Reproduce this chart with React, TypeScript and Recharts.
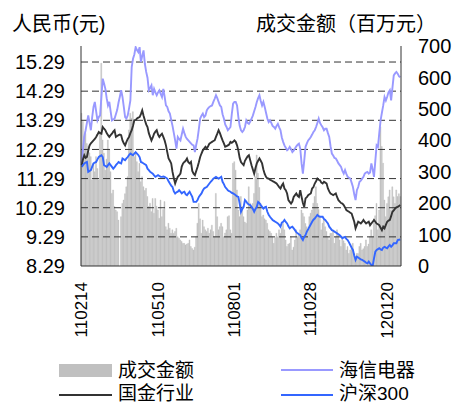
import React from 'react';
import { ComposedChart, Bar, Line, XAxis, YAxis, ReferenceLine } from 'recharts';

// Market holidays (yymmdd) on weekdays in the period
const holidays = ['110404','110405','110502','110606','110912','111003','111004','111005','111006','111007','120102','120103','120123','120124','120125','120126','120127'];

function tradingDays(start: number[], end: number[]): string[] {
  const out: string[] = [];
  const d = new Date(Date.UTC(start[0], start[1] - 1, start[2]));
  const e = new Date(Date.UTC(end[0], end[1] - 1, end[2]));
  while (d <= e) {
    const wd = d.getUTCDay();
    const s = String(d.getUTCFullYear() % 100).padStart(2, '0') + String(d.getUTCMonth() + 1).padStart(2, '0') + String(d.getUTCDate()).padStart(2, '0');
    if (wd !== 0 && wd !== 6 && !holidays.includes(s)) out.push(s);
    d.setUTCDate(d.getUTCDate() + 1);
  }
  return out;
}

const dates = tradingDays([2011, 2, 14], [2012, 2, 10]);
const xTickLabels = ['110214', '110510', '110801', '111028', '120120'];
const leftTicks = [8.29, 9.29, 10.29, 11.29, 12.29, 13.29, 14.29, 15.29];
const rightTicks = [0, 100, 200, 300, 400, 500, 600, 700];

// 成交金额 (百万元)
const volume = [
  486, 460, 412, 422, 390, 380, 360, 348, 274, 327,
  300, 348, 310, 274, 420, 645, 401, 359, 305, 340,
  401, 369, 300, 231, 242, 189, 178, 173, 146, 0,
  157, 199, 210, 230, 252, 284, 433, 486, 470, 491,
  348, 359, 332, 300, 327, 268, 284, 252, 240, 247,
  221, 189, 200, 173, 215, 168, 215, 190, 178, 152,
  210, 157, 180, 205, 125, 115, 136, 120, 104, 115,
  104, 110, 120, 93, 88, 83, 78, 72, 72, 67,
  70, 72, 83, 62, 56, 51, 60, 93, 136, 199,
  150, 104, 146, 125, 115, 110, 120, 104, 115, 130,
  110, 93, 231, 157, 115, 125, 136, 125, 93, 105,
  115, 157, 160, 115, 104, 327, 332, 305, 242, 178,
  157, 221, 189, 157, 140, 136, 178, 252, 200, 189,
  199, 231, 284, 353, 295, 250, 199, 157, 162, 150,
  146, 136, 115, 110, 104, 93, 72, 90, 104, 93,
  115, 104, 120, 136, 115, 83, 62, 70, 72, 93,
  51, 60, 83, 115, 93, 100, 115, 178, 168, 157,
  135, 125, 115, 157, 168, 178, 200, 221, 252, 199,
  180, 157, 115, 136, 146, 125, 110, 93, 83, 104,
  104, 115, 72, 93, 115, 100, 83, 62, 93, 80,
  72, 51, 62, 40, 51, 60, 72, 40, 30, 40,
  40, 62, 72, 51, 55, 62, 83, 62, 70, 93,
  115, 93, 136, 160, 199, 115, 178, 443, 380, 327,
  210, 157, 199, 220, 242, 178, 252, 220, 199, 242,
  221, 230, 221,
];

// 海信电器 (元)
const hisense = [
  11.81, 12.30, 12.75, 12.95, 13.20, 13.46, 13.20, 12.95, 13.40, 13.75,
  13.92, 13.60, 13.29, 13.40, 13.46, 14.10, 14.72, 14.55, 14.37, 14.05,
  13.80, 13.92, 13.60, 13.29, 13.32, 13.35, 13.50, 13.65, 13.90, 14.10,
  14.32, 14.09, 13.75, 13.40, 13.35, 13.46, 13.70, 13.97, 15.12, 15.40,
  15.55, 15.80, 15.70, 15.63, 15.80, 15.29, 15.50, 15.69, 15.23, 14.95,
  14.75, 14.32, 14.40, 14.49, 14.15, 14.37, 14.25, 14.15, 14.25, 14.32,
  14.20, 14.09, 14.37, 14.10, 13.80, 13.75, 13.60, 13.52, 13.30, 13.10,
  12.85, 12.60, 12.32, 12.72, 12.65, 12.60, 12.80, 13.00, 12.85, 12.72,
  12.65, 12.60, 12.55, 12.50, 12.45, 12.43, 12.20, 12.45, 12.66, 13.00,
  13.35, 13.45, 13.52, 13.40, 13.45, 13.63, 13.70, 13.75, 13.78, 13.80,
  13.92, 14.03, 14.15, 14.05, 13.92, 13.80, 13.75, 13.50, 13.35, 13.15,
  13.06, 12.95, 13.00, 13.06, 13.50, 13.86, 13.92, 13.92, 13.80, 13.40,
  13.10, 12.95, 12.89, 12.95, 13.06, 13.29, 13.20, 13.17, 13.25, 13.35,
  13.45, 13.60, 13.75, 13.92, 14.05, 14.15, 13.95, 13.80, 13.92, 13.75,
  13.55, 13.35, 13.23, 13.29, 13.20, 13.10, 13.06, 13.00, 13.10, 13.17,
  13.05, 12.95, 12.70, 12.55, 12.43, 12.35, 12.26, 12.30, 12.38, 12.30,
  12.20, 12.25, 12.32, 12.40, 12.45, 12.49, 12.32, 11.81, 11.46, 11.90,
  12.38, 12.50, 12.60, 12.65, 12.72, 12.80, 12.89, 12.95, 13.06, 13.20,
  13.35, 13.20, 13.12, 13.05, 12.95, 13.00, 13.00, 12.85, 12.72, 12.40,
  12.15, 12.08, 12.00, 11.98, 11.90, 11.81, 11.75, 11.69, 11.55, 11.46,
  11.58, 11.45, 11.35, 11.32, 11.29, 11.15, 11.00, 10.75, 10.55, 10.89,
  11.00, 11.18, 11.22, 11.29, 11.35, 11.46, 11.50, 11.52, 11.46, 11.50,
  11.81, 11.60, 11.35, 11.90, 12.43, 12.38, 12.85, 13.29, 13.55, 13.80,
  14.09, 13.97, 14.10, 14.25, 14.32, 13.97, 14.40, 14.83, 14.90, 14.95,
  14.89, 14.80, 14.77,
];

// 国金行业 (元)
const guojin = [
  11.75, 11.95, 12.09, 12.00, 12.03, 12.25, 12.43, 12.50, 12.55, 12.60,
  12.65, 12.72, 12.80, 12.89, 12.85, 12.83, 13.06, 13.00, 12.95, 12.85,
  12.78, 12.72, 12.78, 12.83, 12.90, 12.95, 12.72, 12.75, 12.78, 12.80,
  12.78, 12.60, 12.50, 12.43, 12.55, 12.65, 12.72, 12.85, 12.95, 13.10,
  13.29, 13.30, 13.35, 13.38, 13.40, 13.50, 13.63, 13.45, 13.29, 13.15,
  13.06, 12.85, 12.72, 12.60, 12.70, 12.83, 12.90, 12.95, 12.80, 12.72,
  12.78, 12.83, 12.72, 12.60, 12.43, 12.20, 11.98, 11.90, 11.81, 11.52,
  11.30, 11.12, 11.25, 11.35, 11.40, 11.46, 11.70, 11.81, 11.86, 11.90,
  11.98, 11.85, 11.81, 11.86, 11.55, 11.46, 11.41, 11.55, 11.69, 11.85,
  12.03, 12.15, 12.26, 12.32, 12.38, 12.32, 12.40, 12.49, 12.52, 12.55,
  12.58, 12.60, 12.72, 12.83, 12.95, 12.85, 12.72, 12.60, 12.50, 12.38,
  12.40, 12.43, 12.46, 12.55, 12.52, 12.55, 12.60, 12.55, 12.43, 12.25,
  12.00, 11.86, 11.80, 11.75, 11.90, 11.98, 12.05, 12.09, 11.92, 11.75,
  11.60, 11.46, 11.65, 11.81, 11.90, 11.98, 11.90, 11.81, 11.60, 11.45,
  11.35, 11.30, 11.29, 11.25, 11.23, 11.20, 11.18, 11.15, 11.12, 11.06,
  11.00, 10.95, 11.05, 11.12, 10.95, 10.89, 10.78, 10.55, 10.49, 10.43,
  10.50, 10.66, 10.72, 10.78, 10.70, 10.66, 10.89, 10.66, 10.45, 10.32,
  10.61, 10.65, 10.72, 10.75, 10.78, 10.95, 11.00, 11.12, 11.20, 11.29,
  11.25, 11.23, 11.15, 11.12, 11.18, 11.15, 11.12, 10.95, 10.85, 10.78,
  10.75, 10.72, 10.75, 10.78, 10.65, 10.55, 10.50, 10.45, 10.43, 10.38,
  10.30, 10.21, 10.18, 10.15, 10.12, 10.09, 9.95, 9.81, 9.58, 9.70,
  9.81, 9.78, 9.75, 9.80, 9.87, 9.80, 9.75, 9.78, 9.81, 9.69,
  9.75, 9.80, 9.87, 9.81, 9.75, 9.72, 9.69, 9.60, 9.52, 9.64,
  9.58, 9.70, 9.81, 9.85, 9.87, 10.00, 10.15, 10.20, 10.26, 10.30,
  10.32, 10.35, 10.38,
];

// 沪深300 (rebased, 元)
const hs300 = [
  11.69, 11.75, 11.81, 11.84, 11.86, 11.52, 11.55, 11.58, 11.70, 11.81,
  11.84, 11.86, 11.95, 12.03, 12.06, 12.09, 12.03, 11.75, 11.72, 11.69,
  11.75, 11.81, 11.75, 11.69, 11.63, 11.68, 11.75, 11.80, 11.86, 11.83,
  11.81, 11.98, 11.95, 11.92, 11.98, 12.03, 12.10, 12.15, 12.12, 12.09,
  12.15, 12.20, 12.15, 12.10, 12.03, 11.86, 11.84, 11.81, 11.78, 11.75,
  11.63, 11.58, 11.52, 11.49, 11.46, 11.40, 11.35, 11.38, 11.41, 11.38,
  11.35, 11.35, 11.36, 11.35, 11.32, 11.29, 11.20, 11.12, 11.05, 11.00,
  10.85, 10.78, 10.82, 10.84, 10.89, 10.84, 10.78, 10.82, 10.84, 10.75,
  10.72, 10.78, 10.84, 10.75, 10.66, 10.49, 10.49, 10.49, 10.55, 10.66,
  10.72, 10.78, 10.88, 10.95, 10.98, 11.00, 11.06, 11.12, 11.18, 11.23,
  11.29, 11.32, 11.35, 11.32, 11.29, 11.32, 11.35, 11.18, 11.10, 11.00,
  10.95, 10.89, 10.86, 10.84, 10.80, 10.78, 10.75, 10.72, 10.68, 10.66,
  10.43, 10.15, 10.25, 10.32, 10.55, 10.50, 10.43, 10.40, 10.38, 10.32,
  10.25, 10.15, 10.25, 10.32, 10.49, 10.45, 10.38, 10.32, 10.26, 10.30,
  10.32, 10.15, 10.05, 9.98, 9.92, 9.87, 9.84, 9.81, 9.78, 9.75,
  9.70, 9.64, 9.78, 9.81, 9.87, 9.80, 9.75, 9.65, 9.58, 9.62,
  9.64, 9.58, 9.52, 9.45, 9.41, 9.38, 9.35, 9.25, 9.18, 9.29,
  9.35, 9.47, 9.55, 9.64, 9.72, 9.81, 9.88, 9.92, 9.98, 10.04,
  10.00, 9.98, 9.98, 9.98, 9.90, 9.87, 9.81, 9.75, 9.64, 9.58,
  9.52, 9.50, 9.47, 9.44, 9.41, 9.38, 9.35, 9.30, 9.24, 9.27,
  9.29, 9.22, 9.18, 9.10, 9.01, 8.92, 8.84, 8.65, 8.50, 8.61,
  8.58, 8.55, 8.52, 8.50, 8.47, 8.44, 8.40, 8.38, 8.44, 8.38,
  8.32, 8.29, 8.55, 8.78, 8.84, 8.87, 8.90, 8.86, 8.84, 8.92,
  8.95, 8.92, 8.90, 8.96, 9.01, 8.95, 9.00, 9.07, 9.07, 9.07,
  9.18, 9.19, 9.20,
];

const seriesNames = { volume: '成交金额', hisense: '海信电器', guojin: '国金行业', hs300: '沪深300' };
const colors = { volume: '#C0C0C0', hisense: '#9999FF', guojin: '#333333', hs300: '#3366FF' };

const data = dates.map((date, i) => ({
  date,
  volume: volume[i],
  hisense: hisense[i],
  guojin: guojin[i],
  hs300: hs300[i],
}));

const NUM_FONT = '"Liberation Sans", Arial, sans-serif';
const CJK_FONT = '"Liberation Sans", "Noto Sans CJK SC", sans-serif';

const RotTick = (props: any) => {
  const { x, y, payload } = props;
  return (
    <text
      x={x}
      y={y}
      transform={`rotate(-90 ${x} ${y})`}
      textAnchor="end"
      dominantBaseline="central"
      fontSize={17}
      fontFamily={NUM_FONT}
      fill="#000"
    >
      {payload.value}
    </text>
  );
};

export default function App() {
  return (
    <div style={{ position: 'absolute', left: 0, top: 0, width: 456, height: 405, background: '#fff' }}>
      <ComposedChart
        width={456}
        height={405}
        data={data}
        margin={{ top: 46, right: 0, bottom: 0, left: 0 }}
        barCategoryGap={0}
        barGap={0}
      >
        <XAxis
          dataKey="date"
          ticks={xTickLabels}
          interval={0}
          tickLine={false}
          tickSize={0}
          tickMargin={16}
          height={139}
          axisLine={{ stroke: '#333', strokeWidth: 1 }}
          tick={<RotTick />}
        />
        <YAxis
          yAxisId="left"
          type="number"
          width={81}
          domain={[8.29, 15.84]}
          allowDataOverflow
          ticks={leftTicks}
          tickFormatter={(v: number) => v.toFixed(2)}
          tickLine={false}
          tickSize={0}
          tickMargin={16}
          axisLine={{ stroke: '#333', strokeWidth: 1 }}
          tick={{ fontSize: 20, fill: '#000', fontFamily: NUM_FONT }}
        />
        <YAxis
          yAxisId="right"
          orientation="right"
          type="number"
          width={55}
          domain={[0, 700]}
          allowDataOverflow
          ticks={rightTicks}
          tickLine={false}
          tickSize={0}
          tickMargin={17}
          axisLine={{ stroke: '#333', strokeWidth: 1 }}
          tick={{ fontSize: 20, fill: '#000', fontFamily: NUM_FONT }}
        />
        <Bar
          dataKey="volume"
          name={seriesNames.volume}
          yAxisId="right"
          fill={colors.volume}
          stroke={colors.volume}
          strokeWidth={0.4}
          isAnimationActive={false}
        />
        {leftTicks.slice(1).map((v) => (
          <ReferenceLine key={v} yAxisId="left" y={v} stroke="#333" strokeWidth={1} strokeDasharray="7 4" />
        ))}
        <Line type="linear" dataKey="hisense" name={seriesNames.hisense} yAxisId="left" stroke={colors.hisense} strokeWidth={1.9} dot={false} isAnimationActive={false} />
        <Line type="linear" dataKey="guojin" name={seriesNames.guojin} yAxisId="left" stroke={colors.guojin} strokeWidth={1.9} dot={false} isAnimationActive={false} />
        <Line type="linear" dataKey="hs300" name={seriesNames.hs300} yAxisId="left" stroke={colors.hs300} strokeWidth={1.9} dot={false} isAnimationActive={false} />
      </ComposedChart>
      <svg width={456} height={405} style={{ position: 'absolute', left: 0, top: 0, pointerEvents: 'none' }}>
        <text x={12} y={31} fontSize={20} fontFamily={CJK_FONT} fill="#000">人民币(元)</text>
        <text x={256} y={31} fontSize={20} fontFamily={CJK_FONT} fill="#000">成交金额（百万元）</text>

        <rect x={59} y={364} width={53} height={13} fill={colors.volume} />
        <text x={118} y={377} fontSize={19} fontFamily={CJK_FONT} fill="#000">{seriesNames.volume}</text>
        <line x1={59} x2={112} y1={395} y2={395} stroke={colors.guojin} strokeWidth={2} />
        <text x={118} y={400} fontSize={19} fontFamily={CJK_FONT} fill="#000">{seriesNames.guojin}</text>

        <line x1={281} x2={333} y1={370} y2={370} stroke={colors.hisense} strokeWidth={2} />
        <text x={339} y={377} fontSize={19} fontFamily={CJK_FONT} fill="#000">{seriesNames.hisense}</text>
        <line x1={281} x2={333} y1={395} y2={395} stroke={colors.hs300} strokeWidth={2} />
        <text x={339} y={400} fontSize={19} fontFamily={CJK_FONT} fill="#000">{seriesNames.hs300}</text>
      </svg>
    </div>
  );
}
